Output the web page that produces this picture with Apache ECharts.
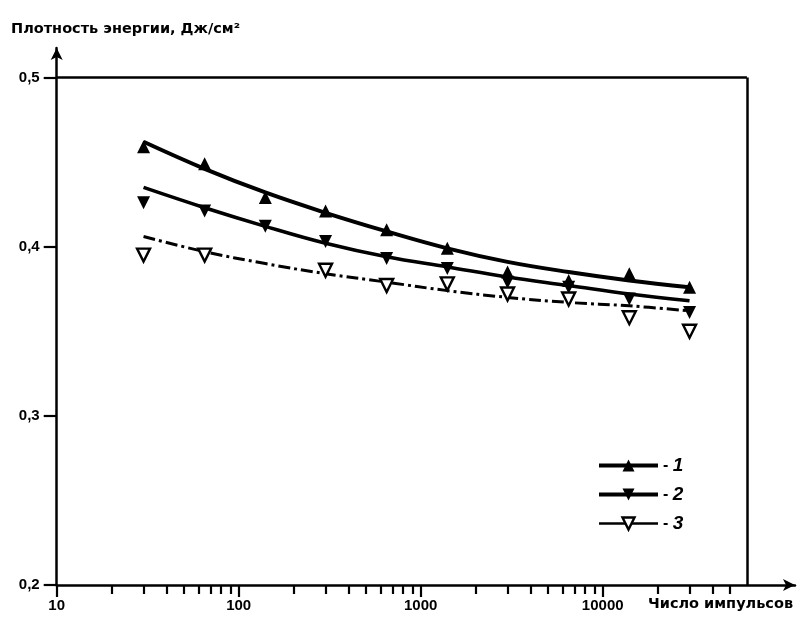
<!DOCTYPE html>
<html>
<head>
<meta charset="utf-8">
<script src="https://cdn.jsdelivr.net/npm/echarts@6/dist/echarts.min.js"></script>
<style>
  html, body { margin: 0; padding: 0; background: #fff; }
  #chart { width: 806px; height: 618px; }
</style>
</head>
<body>
<div id="chart"></div>
<script>
// ---- data ----
const pulseCounts = [30, 65, 140, 300, 650, 1400, 3000, 6500, 14000, 30000];

// measured points
const points1 = [0.459, 0.449, 0.429, 0.421, 0.410, 0.399, 0.385, 0.380, 0.384, 0.376];
const points2 = [0.426, 0.421, 0.412, 0.403, 0.393, 0.387, 0.379, 0.376, 0.369, 0.361];
const points3 = [0.395, 0.395, null, 0.386, 0.377, 0.378, 0.372, 0.369, 0.358, 0.350];

// fitted curves (read at the same pulse counts)
const curve1 = [0.462, 0.446, 0.432, 0.420, 0.409, 0.399, 0.391, 0.385, 0.380, 0.376];
const curve2 = [0.435, 0.423, 0.412, 0.402, 0.394, 0.388, 0.382, 0.377, 0.372, 0.368];
const curve3 = [0.406, 0.397, 0.390, 0.384, 0.379, 0.374, 0.370, 0.367, 0.365, 0.362];

const seriesNames = ['1', '2', '3'];

const xMajorTicks = [10, 100, 1000, 10000];
const xMinorTicks = [20, 30, 40, 50, 60, 70, 80, 90,
                     200, 300, 400, 500, 600, 700, 800, 900,
                     2000, 3000, 4000, 5000, 6000, 7000, 8000, 9000,
                     20000, 30000, 40000, 50000];
const yTicks = [0.2, 0.3, 0.4, 0.5];

const yTitle = 'Плотность энергии, Дж/см²';
const xTitle = 'Число импульсов';

// axis extents (arrows extend past the frame)
const X_MIN = 10, X_MAX = 113900, X_FRAME = 62000;
const Y_MIN = 0.2, Y_MAX = 0.5174, Y_FRAME = 0.5;

// ---- build ----
const pair = (ys) => pulseCounts.map((x, i) => [x, ys[i]]);

const UP = 'path://M5,0L10,10L0,10Z';
const DOWN = 'path://M0,0L10,0L5,10Z';
const BLACK = '#000';

const labelFont = { fontFamily: 'Liberation Sans', fontWeight: 'bold', fontSize: 15, color: BLACK };
const titleFont = { fontFamily: 'DejaVu Sans', fontWeight: 'bold', fontSize: 14.5, color: BLACK };

const styles = [
  { symbol: UP, fill: BLACK, border: 0, lineWidth: 4, lineType: 'solid', legendLine: 4 },
  { symbol: DOWN, fill: BLACK, border: 0, lineWidth: 3.5, lineType: 'solid', legendLine: 4 },
  { symbol: DOWN, fill: '#fff', border: 2.4, lineWidth: 3, lineType: [12, 4, 3, 4], legendLine: 2.5 }
];
const pointSets = [points1, points2, points3];
const curveSets = [curve1, curve2, curve3];

const series = [];
seriesNames.forEach((name, i) => {
  const st = styles[i];
  const curve = {
    name: name,
    type: 'line',
    data: pair(curveSets[i]),
    smooth: 0.4,
    showSymbol: false,
    symbol: st.symbol,
    symbolSize: 13,
    itemStyle: { color: st.fill, borderColor: BLACK, borderWidth: st.border, opacity: 1 },
    lineStyle: { color: BLACK, width: st.lineWidth, type: st.lineType },
    emphasis: { disabled: true },
    silent: true,
    z: 2
  };
  if (i === 0) {
    curve.markLine = {
      silent: true,
      symbol: 'none',
      animation: false,
      label: { show: false },
      lineStyle: { color: BLACK, width: 2.5, type: 'solid' },
      data: [
        [{ coord: [X_MIN, Y_FRAME] }, { coord: [X_FRAME, Y_FRAME] }],
        [{ coord: [X_FRAME, Y_FRAME] }, { coord: [X_FRAME, Y_MIN] }]
      ]
    };
  }
  series.push(curve);
  series.push({
    name: 'pts' + name,
    type: 'scatter',
    data: pair(pointSets[i]).filter(p => p[1] !== null),
    symbol: st.symbol,
    symbolSize: 13,
    itemStyle: { color: st.fill, borderColor: BLACK, borderWidth: st.border, opacity: 1 },
    emphasis: { disabled: true },
    silent: true,
    z: 3
  });
});

const legendData = seriesNames.map((n, i) => ({
  name: n,
  itemStyle: { color: styles[i].fill, borderColor: BLACK, borderWidth: styles[i].border || 0, opacity: 1 },
  lineStyle: { color: BLACK, width: styles[i].legendLine, type: 'solid' }
}));

const chart = echarts.init(document.getElementById('chart'), null, { renderer: 'canvas' });
chart.setOption({
  animation: false,
  backgroundColor: '#fff',
  title: [
    { text: yTitle, left: 11, top: 22, padding: 0, textStyle: titleFont },
    { text: xTitle, left: 648, top: 597, padding: 0, textStyle: titleFont }
  ],
  grid: { left: 56.7, right: 11, top: 48, bottom: 33, containLabel: false },
  legend: {
    data: legendData,
    orient: 'vertical',
    left: 592,
    top: 451,
    itemWidth: 59,
    itemHeight: 15,
    itemGap: 10,
    selectedMode: false,
    formatter: (n) => '{d|- }{n|' + n + '}',
    textStyle: {
      rich: {
        d: { fontFamily: 'Liberation Sans', fontWeight: 'bold', fontSize: 16, color: BLACK },
        n: { fontFamily: 'Liberation Sans', fontWeight: 'bold', fontStyle: 'italic', fontSize: 19, color: BLACK }
      }
    }
  },
  xAxis: [
    {
      type: 'log',
      logBase: 10,
      min: X_MIN,
      max: X_MAX,
      axisLine: { show: true, symbol: ['none', 'arrow'], symbolSize: [9, 12], lineStyle: { color: BLACK, width: 2.5 } },
      axisTick: { show: true, customValues: xMajorTicks, length: 12, lineStyle: { color: BLACK, width: 2.2 } },
      axisLabel: { show: true, customValues: xMajorTicks, margin: 13, formatter: (v) => String(Math.round(v)), ...labelFont },
      splitLine: { show: false },
      minorTick: { show: false }
    },
    {
      type: 'log',
      logBase: 10,
      min: X_MIN,
      max: X_MAX,
      position: 'bottom',
      axisLine: { show: false },
      axisTick: { show: true, customValues: xMinorTicks, length: 9, lineStyle: { color: BLACK, width: 2.2 } },
      axisLabel: { show: false },
      splitLine: { show: false }
    }
  ],
  yAxis: {
    type: 'value',
    min: Y_MIN,
    max: Y_MAX,
    axisLine: { show: true, symbol: ['none', 'arrow'], symbolSize: [9, 12], lineStyle: { color: BLACK, width: 2.5 } },
    axisTick: { show: true, customValues: yTicks, length: 13, lineStyle: { color: BLACK, width: 2.2 } },
    axisLabel: { show: true, customValues: yTicks, margin: 17, formatter: (v) => v.toFixed(1).replace('.', ','), ...labelFont },
    splitLine: { show: false }
  },
  series: series
});
</script>
</body>
</html>
